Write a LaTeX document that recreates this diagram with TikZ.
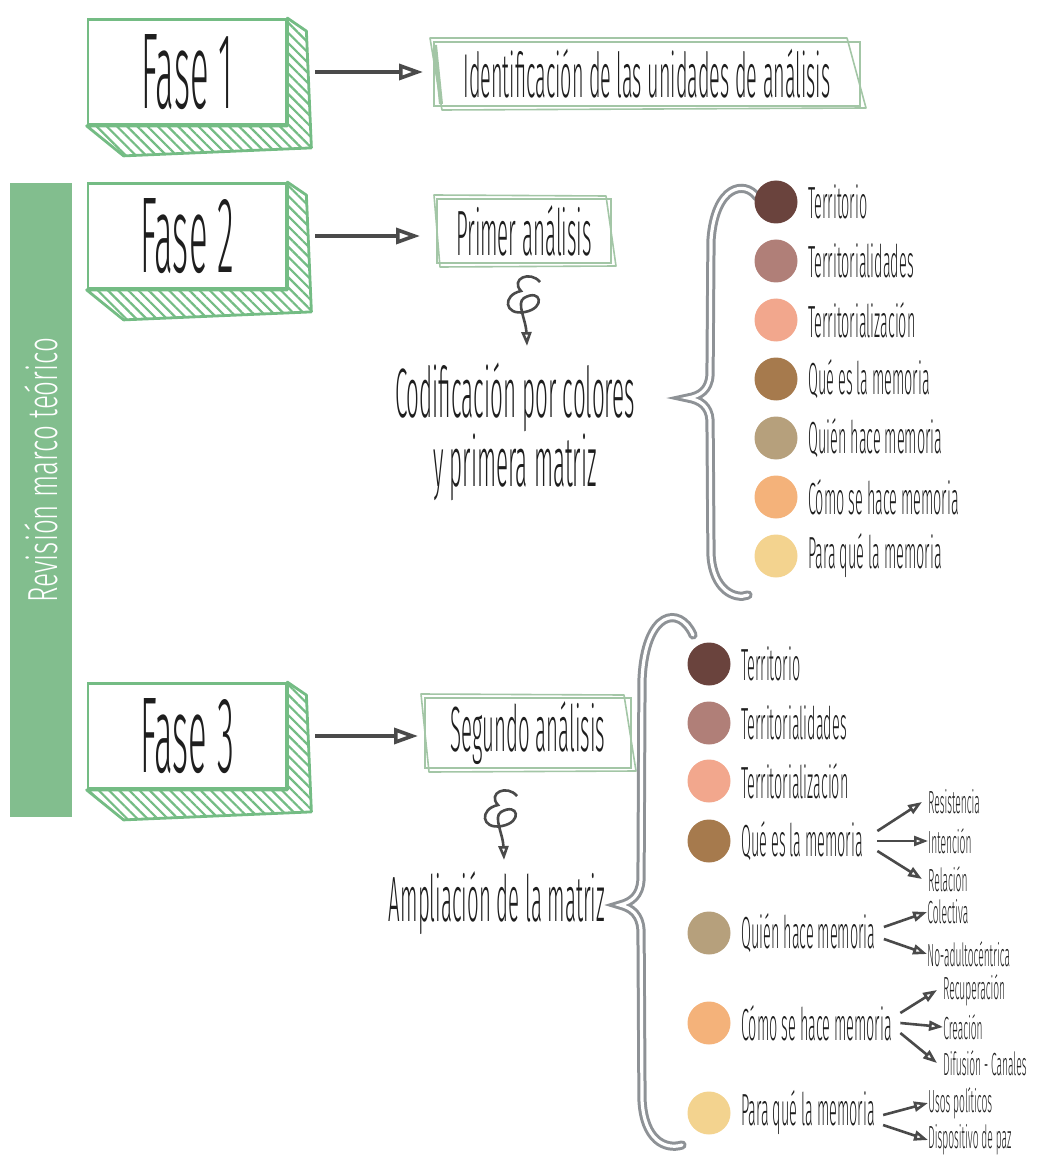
\documentclass[tikz,border=0pt]{standalone}
\usepackage{fontspec}
\setmainfont{Fira Sans Light}[FakeStretch=0.32]
\newfontfamily\barfont{Fira Sans Light}[FakeStretch=0.62]
\usepackage{tikz}
\usetikzlibrary{arrows.meta, calc, positioning, patterns.meta}

\definecolor{faseGreen}{HTML}{74BC84}
\definecolor{sketchGreen}{HTML}{A3C6A6}
\definecolor{barGreen}{HTML}{82BE8E}
\definecolor{arrowGray}{HTML}{4A4A4A}
\definecolor{braceGray}{HTML}{8E9296}
\definecolor{textGray}{HTML}{1E1E1E}
\definecolor{cTerr}{HTML}{6A433D}
\definecolor{cTerrs}{HTML}{B07F78}
\definecolor{cTerrz}{HTML}{F2A78D}
\definecolor{cQue}{HTML}{A67A4D}
\definecolor{cQuien}{HTML}{B6A07C}
\definecolor{cComo}{HTML}{F4B27A}
\definecolor{cPara}{HTML}{F3D38F}

\tikzset{
  curlarrow/.pic={
    \draw[curl] (2,0) .. controls (-8,-12) and (-28,-3) .. (-17,9)
      .. controls (-36,13) and (-34,34) .. (-13,30)
      .. controls (8,26) and (3,6) .. (-14,16)
      .. controls (-22,21) and (-12,38) .. (-11,64);
  }
}

\begin{document}
\begin{tikzpicture}[x=0.5pt, y=-0.5pt,
    fasebox/.style={draw=faseGreen, line width=1.4pt, fill=white, minimum width=99pt,
      minimum height=52.5pt, text=textGray, font=\fontsize{54}{56}\selectfont},
    hatch/.style={draw=faseGreen, line width=1.4pt, line join=round,
      pattern={Lines[angle=-45, distance=3.6pt, line width=1.1pt]}, pattern color=faseGreen},
    sketchbox/.style={draw=sketchGreen, line width=1pt, inner sep=0pt, text=textGray,
      font=\fontsize{32}{34}\selectfont},
    sketchline/.style={draw=sketchGreen, line width=0.8pt, line join=round},
    phasearrow/.style={draw=arrowGray, line width=2.4pt,
      -{Triangle[open, length=12pt, width=8pt, line width=1.8pt]}},
    subarrow/.style={draw=arrowGray, line width=1.3pt, -{Triangle[open, length=7pt, width=5pt]}},
    curl/.style={draw=arrowGray, line width=1.3pt, -{Triangle[open, length=7pt, width=5pt]}},
    dot/.style={circle, minimum size=21.5pt, inner sep=0pt},
    itemlabel/.style={anchor=west, inner sep=0pt, text=textGray, font=\fontsize{22.5}{24}\selectfont},
    sublabel/.style={anchor=west, inner sep=0pt, text=textGray, font=\fontsize{16}{18}\selectfont},
    bigtext/.style={align=center, text=textGray, font=\fontsize{35}{32}\selectfont},
    brace/.style={draw=braceGray, line width=1.5pt, double=white, double distance=1.6pt, line cap=round},
  ]
  \useasboundingbox (0,0) rectangle (1041,1160);

  % barra lateral
  \node[fill=barGreen, minimum width=31pt, minimum height=317pt, inner sep=0pt] (bar) at (41,500) {};
  \node[rotate=90, text=white, font=\barfont\fontsize{21}{22}\selectfont] (bartext) at (41,470) {Revisión marco teórico};

  % fases
  \node[fasebox] (fase1) at (187,72) {Fase 1};
  \node[fasebox] (fase2) at (187,236) {Fase 2};
  \node[fasebox] (fase3) at (187,736) {Fase 3};
  \foreach \f in {fase1, fase2, fase3}
    \draw[hatch] (\f.north east) -- ($(\f.north east)+(19,13)$) -- ($(\f.south east)+(24,22)$)
      -- ($(\f.south west)+(37,30)$) -- (\f.south west) -- (\f.south east) -- cycle;

  % cajas de trazo
  \node[sketchbox, minimum width=213pt, minimum height=32pt, font=\fontsize{31}{33}\selectfont] (ident) at (647,74) {Identificación de las unidades de análisis};
  \draw[sketchline] ($(ident.north west)+(-3,-3)$) -- ($(ident.north east)+(-14,-3)$)
    -- ($(ident.south east)+(5,1)$) -- ($(ident.south west)+(9,3)$) -- cycle;
  \draw[sketchline, line width=2pt] ($(ident.north west)+(2,4)$) -- ($(ident.south west)+(8,-3)$);

  \node[sketchbox, minimum width=87pt, minimum height=32pt] (prim) at (524,231) {Primer análisis};
  \draw[sketchline] ($(prim.north west)+(-2,-3)$) -- ($(prim.north east)+(-6,-2)$)
    -- ($(prim.south east)+(4,2)$) -- ($(prim.south west)+(4,3)$) -- cycle;

  \node[sketchbox, minimum width=103pt, minimum height=35pt] (seg) at (528,733) {Segundo análisis};
  \draw[sketchline] ($(seg.north west)+(-3,-3)$) -- ($(seg.north east)+(-8,-2)$)
    -- ($(seg.south east)+(4,2)$) -- ($(seg.south west)+(5,3)$) -- cycle;

  % flechas de fase
  \draw[phasearrow, shorten <=14pt, shorten >=5pt] (fase1.east) -- (fase1.east -| ident.west);
  \draw[phasearrow, shorten <=14pt, shorten >=8pt] (fase2.east) -- (fase2.east -| prim.west);
  \draw[phasearrow, shorten <=14pt, shorten >=3pt] (fase3.east) -- (fase3.east -| seg.west);

  % rizos y textos
  \pic at ($(prim.south)+(14,18)$) {curlarrow};
  \node[bigtext] (codif) at (515,432) {Codificación por colores\\y primera matriz};
  \pic at ($(seg.south)+(-13,27)$) {curlarrow};
  \node[bigtext, font=\fontsize{32}{34}\selectfont] (ampl) at (497,903) {Ampliación de la matriz};

  % llaves
  \draw[brace] (757,197) .. controls (745,180) and (715,185) .. (711,240) -- (710,375)
    .. controls (709,390) and (700,396) .. (688,398) .. controls (700,400) and (709,406) .. (710,420)
    -- (711,555) .. controls (713,590) and (735,600) .. (748,595);
  \draw[brace] (693,635) .. controls (680,605) and (645,610) .. (642,680) -- (641,880)
    .. controls (640,895) and (632,902) .. (620,905) .. controls (632,908) and (640,915) .. (641,930)
    -- (642,1100) .. controls (644,1140) and (665,1150) .. (682,1145);

  % primera matriz
  \foreach \i/\col/\txt in {1/cTerr/Territorio, 2/cTerrs/Territorialidades, 3/cTerrz/Territorialización,
      4/cQue/Qué es la memoria, 5/cQuien/Quién hace memoria, 6/cComo/Cómo se hace memoria,
      7/cPara/Para qué la memoria} {
    \node[dot, fill=\col] (dotA\i) at (776,{202+59*(\i-1)}) {};
    \node[itemlabel, right=5pt of dotA\i] (labA\i) {\txt};
  }

  % segunda matriz
  \foreach \i/\y/\col/\txt in {1/664/cTerr/Territorio, 2/723/cTerrs/Territorialidades,
      3/781/cTerrz/Territorialización, 4/841/cQue/Qué es la memoria, 5/933/cQuien/Quién hace memoria,
      6/1023/cComo/Cómo se hace memoria, 7/1113/cPara/Para qué la memoria} {
    \node[dot, fill=\col] (dotB\i) at (709,\y) {};
    \node[itemlabel, right=5pt of dotB\i] (labB\i) {\txt};
  }

  \node[sublabel] (resist) at (928,802) {Resistencia};
  \node[sublabel] (inten) at (928,841) {Intención};
  \node[sublabel] (relac) at (928,879) {Relación};
  \node[sublabel] (colec) at (927,912) {Colectiva};
  \node[sublabel] (noadul) at (927,954) {No-adultocéntrica};
  \node[sublabel] (recup) at (943,990) {Recuperación};
  \node[sublabel] (creac) at (943,1027) {Creación};
  \node[sublabel] (difus) at (943,1063) {Difusión - Canales};
  \node[sublabel] (usos) at (928,1103) {Usos políticos};
  \node[sublabel] (dispo) at (928,1140) {Dispositivo de paz};

  \draw[subarrow] ([xshift=7pt,yshift=5pt]labB4.east) -- ([xshift=-3pt]resist.west);
  \draw[subarrow] ([xshift=7pt]labB4.east) -- (inten.west);
  \draw[subarrow] ([xshift=7pt,yshift=-5pt]labB4.east) -- ([xshift=-3pt]relac.west);
  \draw[subarrow] ([xshift=4pt,yshift=3pt]labB5.east) -- (colec.west);
  \draw[subarrow] ([xshift=4pt,yshift=-3pt]labB5.east) -- (noadul.west);
  \draw[subarrow] ([xshift=4pt,yshift=5pt]labB6.east) -- ([xshift=-3pt]recup.west);
  \draw[subarrow] ([xshift=4pt]labB6.east) -- (creac.west);
  \draw[subarrow] ([xshift=4pt,yshift=-5pt]labB6.east) -- ([xshift=-3pt]difus.west);
  \draw[subarrow] ([xshift=4pt,yshift=-1pt]labB7.east) -- (usos.west);
  \draw[subarrow] ([xshift=4pt,yshift=-6pt]labB7.east) -- (dispo.west);
\end{tikzpicture}
\end{document}
